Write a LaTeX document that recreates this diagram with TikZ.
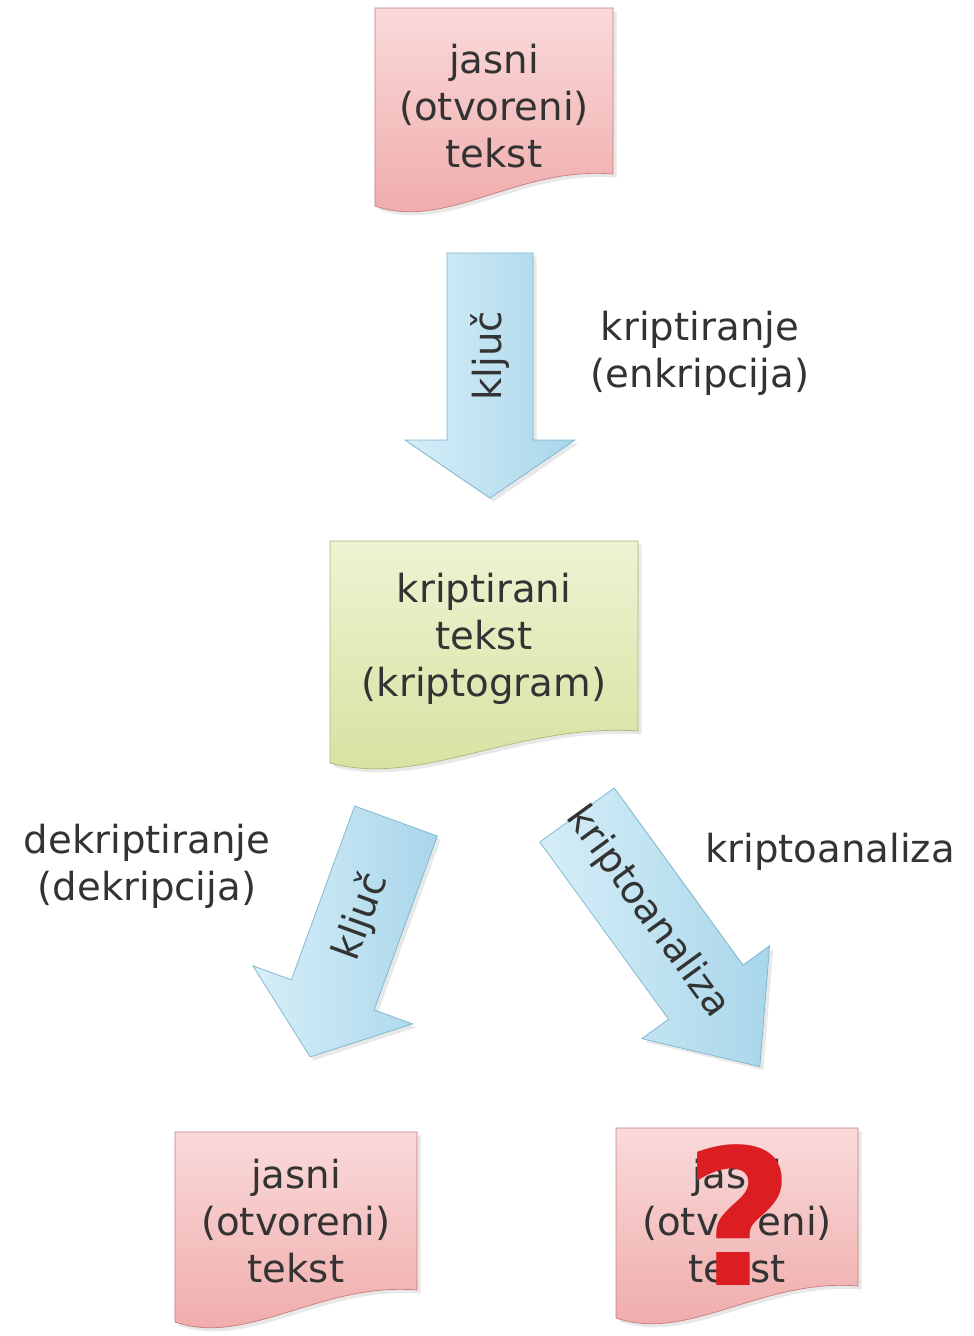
\documentclass[tikz,border=0pt]{standalone}
\usepackage{fontspec}
\setmainfont{DejaVu Sans}
\usetikzlibrary{calc,backgrounds,shadows}

\definecolor{textgray}{HTML}{333333}
\definecolor{redtop}{HTML}{FADADA}
\definecolor{redbottom}{HTML}{EFA8A8}
\definecolor{redline}{HTML}{C77B7B}
\definecolor{greentop}{HTML}{EEF3D2}
\definecolor{greenbottom}{HTML}{D5E19E}
\definecolor{greenline}{HTML}{A8B878}
\definecolor{bluetop}{HTML}{D6EEF8}
\definecolor{bluebottom}{HTML}{A9D6EA}
\definecolor{blueline}{HTML}{79B4CE}
\definecolor{qred}{HTML}{DC1E23}

\tikzset{
  txt/.style={align=center, text=textgray, font=\fontsize{22}{26.7}\selectfont},
  softshadow/.style={drop shadow={opacity=0.18, shadow xshift=2pt, shadow yshift=-2pt}},
  docred/.style={draw=redline, thin, top color=redtop, bottom color=redbottom, softshadow},
  docgreen/.style={draw=greenline, thin, top color=greentop, bottom color=greenbottom, softshadow},
  arrowbody/.style={draw=blueline, thin, left color=bluetop, right color=bluebottom, softshadow},
  qmark/.style={text=qred, font=\fontsize{108}{108}\selectfont\bfseries},
  pics/blockarrow/.style n args={4}{code={
    \draw[arrowbody] (-#1,0) -- (#1,0) -- (#1,#2) -- (#3,#2) -- (0,#2+#4)
      -- (-#3,#2) -- (-#1,#2) -- cycle;
    \coordinate (-mid) at (0,0.55*#2);
  }}
}

% document outline around a text node: node, half width, top, bottom, style
\newcommand{\docshape}[5]{%
  \draw[#5] ($(#1)+(-#2,-#3)$) -- ($(#1)+(#2,-#3)$) -- ($(#1)+(#2,#4-32)$)
    .. controls ($(#1)+(0.2*#2,#4-40)$) and ($(#1)+(-0.4*#2,#4+25)$) .. ($(#1)+(-#2,#4)$)
    -- cycle;}

\begin{document}
\begin{tikzpicture}[x=0.02cm, y=-0.02cm]
  \useasboundingbox (0,0) rectangle (974,1336);

  % Documents
  \node[txt] (plain) at (494,106) {jasni\\(otvoreni)\\tekst};
  \node[txt] (cipher) at (484,639) {kriptirani\\tekst\\(kriptogram)};
  \node[txt] (plainback) at (296,1221) {jasni\\(otvoreni)\\tekst};
  \node[txt] (plainguess) at (737,1221) {jasni\\(otvoreni)\\tekst};

  \begin{scope}[on background layer]
    \docshape{plain}{119}{98}{100}{docred}
    \docshape{cipher}{154}{98}{124}{docgreen}
    \docshape{plainback}{121}{89}{101}{docred}
    \docshape{plainguess}{121}{93}{97}{docred}
  \end{scope}

  % Block arrows
  \pic (enc) at (490,253) {blockarrow={43}{187}{85}{58}};
  \pic[rotate=-20] (dec) at (396,821) {blockarrow={44}{185}{85}{66}};
  \pic[rotate=36] (ana) at (577,815) {blockarrow={46}{219}{79}{92}};

  \node[txt, rotate=90] (enckey) at (enc-mid) {ključ};
  \node[txt, rotate=70] (deckey) at (dec-mid) {ključ};
  \node[txt, rotate=-54] (anaword) at (ana-mid) {kriptoanaliza};

  % Labels
  \node[txt] (enclabel) at (700,353) {kriptiranje\\(enkripcija)};
  \node[txt] (declabel) at (147,866) {dekriptiranje\\(dekripcija)};
  \node[txt] (analabel) at (830,852) {kriptoanaliza};

  % Unknown result
  \node[qmark] (guess) at (740,1215) {?};

\end{tikzpicture}
\end{document}
